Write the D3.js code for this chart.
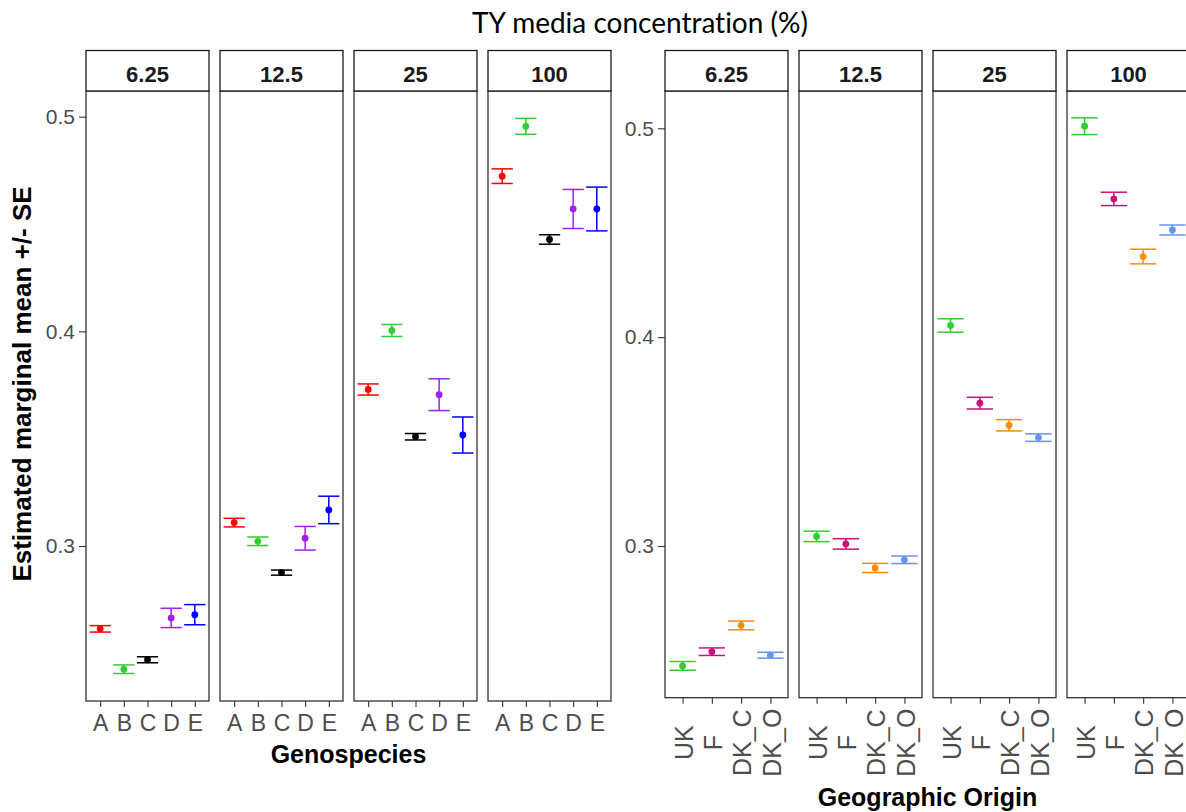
<!DOCTYPE html>
<html>
<head>
<meta charset="utf-8">
<script src="https://cdn.jsdelivr.net/npm/d3@7"></script>
<style>
  html, body { margin: 0; padding: 0; background: #ffffff; }
  svg { display: block; }
  text { font-family: "Liberation Sans", Arial, sans-serif; font-variant-ligatures: none; }
</style>
</head>
<body>
<svg id="chart" width="1186" height="812"></svg>
<script>
// ---- data -------------------------------------------------------------
const concentrations = ["6.25", "12.5", "25", "100"];

// Genospecies: estimated marginal means and standard errors per concentration
const genospecies = ["A", "B", "C", "D", "E"];
const genoMeans = [
  [0.2614, 0.2426, 0.2470, 0.2665, 0.2680],
  [0.3109, 0.3022, 0.2876, 0.3036, 0.3168],
  [0.3729, 0.4004, 0.3509, 0.3705, 0.3517],
  [0.4723, 0.4955, 0.4428, 0.4570, 0.4570]
];
const genoSE = [
  [0.0015, 0.0020, 0.0014, 0.0045, 0.0047],
  [0.0020, 0.0020, 0.0012, 0.0055, 0.0064],
  [0.0026, 0.0028, 0.0015, 0.0074, 0.0084],
  [0.0034, 0.0037, 0.0022, 0.0091, 0.0102]
];

// Geographic origin: estimated marginal means and standard errors
const origins = ["UK", "F", "DK_C", "DK_O"];
const originMeans = [
  [0.2426, 0.2494, 0.2620, 0.2477],
  [0.3046, 0.3010, 0.2895, 0.2934],
  [0.4056, 0.3684, 0.3578, 0.3519],
  [0.5010, 0.4662, 0.4386, 0.4513]
];
const originSE = [
  [0.0021, 0.0018, 0.0021, 0.0014],
  [0.0025, 0.0025, 0.0022, 0.0018],
  [0.0032, 0.0028, 0.0027, 0.0018],
  [0.0040, 0.0032, 0.0035, 0.0024]
];

const yTicks = [0.3, 0.4, 0.5];

// ---- styles -----------------------------------------------------------
const genoColors = ["#FF0000", "#32CD32", "#000000", "#A020F0", "#0000FF"];
const originColors = ["#32CD32", "#CD1076", "#FF8C00", "#6495ED"];
const FONT = "'Liberation Sans', Arial, sans-serif";

const svg = d3.select("#chart");

// Title spanning both plots
svg.append("text")
  .attr("x", 640).attr("y", 33)
  .attr("text-anchor", "middle")
  .style("font-family", "Lato, 'Open Sans', sans-serif")
  .style("font-size", "28px")
  .style("font-variant-ligatures", "none")
  .attr("fill", "#000")
  .text("TY media concentration (%)");

// Draws one faceted row of panels (one panel per concentration)
function facetRow(opts) {
  const g = svg.append("g");
  const panelW = 123, step = 134;
  const stripTop = 50.5, stripBottom = 91;

  const y = d3.scaleLinear().domain(opts.yDomain).range([opts.panelBottom, stripBottom]);

  // y axis on the first panel only
  const yAxis = d3.axisLeft(y).tickValues(yTicks).tickSize(7).tickPadding(4)
    .tickFormat(d3.format(".1f"));
  const ya = g.append("g").attr("transform", `translate(${opts.left},0)`).call(yAxis);
  ya.select(".domain").remove();
  ya.selectAll(".tick line").attr("stroke", "#333333").attr("stroke-width", 1.1);
  ya.selectAll(".tick text").attr("fill", "#4D4D4D")
    .style("font-size", "21px").style("font-family", FONT);

  concentrations.forEach((conc, ci) => {
    const x0 = opts.left + ci * step;
    const x = d3.scalePoint().domain(opts.cats).range([x0, x0 + panelW]).padding(0.6);
    const capHalf = x.step() * 0.45;
    const pg = g.append("g");

    // panel background and border
    pg.append("rect")
      .attr("x", x0).attr("y", stripBottom)
      .attr("width", panelW).attr("height", opts.panelBottom - stripBottom)
      .attr("fill", "#ffffff").attr("stroke", "#333333").attr("stroke-width", 1.3);

    // strip
    pg.append("rect")
      .attr("x", x0).attr("y", stripTop)
      .attr("width", panelW).attr("height", stripBottom - stripTop)
      .attr("fill", "#ffffff").attr("stroke", "#1A1A1A").attr("stroke-width", 1.3);
    pg.append("text")
      .attr("x", x0 + panelW / 2).attr("y", 82)
      .attr("text-anchor", "middle")
      .style("font-size", "22px").style("font-weight", "bold")
      .attr("fill", "#1A1A1A")
      .text(conc);

    // x axis
    const xa = pg.append("g").attr("transform", `translate(0,${opts.panelBottom})`)
      .call(d3.axisBottom(x).tickSize(6).tickPadding(8));
    xa.select(".domain").remove();
    xa.selectAll(".tick line").attr("stroke", "#333333").attr("stroke-width", 1.1);
    const tt = xa.selectAll(".tick text").attr("fill", "#4D4D4D")
      .style("font-size", opts.xFont + "px").style("font-family", FONT);
    if (opts.rotate) {
      tt.attr("y", 0).attr("dy", "0.35em").attr("x", 0)
        .attr("text-anchor", "middle")
        .attr("transform", `translate(1,${opts.rotOffset}) rotate(-90)`);
    }

    // error bars and points
    opts.cats.forEach((cat, k) => {
      const m = opts.means[ci][k], se = opts.se[ci][k];
      const cx = x(cat), col = opts.colors[k];
      const eb = pg.append("g").attr("stroke", col).attr("stroke-width", 1.5).attr("fill", "none");
      eb.append("line").attr("x1", cx).attr("x2", cx).attr("y1", y(m + se)).attr("y2", y(m - se));
      eb.append("line").attr("x1", cx - capHalf).attr("x2", cx + capHalf).attr("y1", y(m + se)).attr("y2", y(m + se));
      eb.append("line").attr("x1", cx - capHalf).attr("x2", cx + capHalf).attr("y1", y(m - se)).attr("y2", y(m - se));
      pg.append("circle").attr("cx", cx).attr("cy", y(m)).attr("r", 3.4).attr("fill", col);
    });
  });

  // x-axis title
  g.append("text")
    .attr("x", opts.left + (3 * step + panelW) / 2).attr("y", opts.xTitleY)
    .attr("text-anchor", "middle")
    .style("font-size", "25px").style("font-weight", "bold")
    .attr("fill", "#000")
    .text(opts.xTitle);
}

// Left: genospecies
facetRow({
  left: 86, panelBottom: 701, yDomain: [0.22779, 0.51197],
  cats: genospecies, means: genoMeans, se: genoSE, colors: genoColors,
  xFont: 23, rotate: false, xTitle: "Genospecies", xTitleY: 763
});

// Right: geographic origin
facetRow({
  left: 665, panelBottom: 697.7, yDomain: [0.22737, 0.51786],
  cats: origins, means: originMeans, se: originSE, colors: originColors,
  xFont: 25, rotate: true, rotOffset: 45, xTitle: "Geographic Origin", xTitleY: 806
});

// Shared y-axis title
svg.append("text")
  .attr("transform", "translate(31,384) rotate(-90)")
  .attr("text-anchor", "middle")
  .style("font-size", "26px").style("font-weight", "bold")
  .attr("fill", "#000")
  .text("Estimated marginal mean +/- SE");
</script>
</body>
</html>
